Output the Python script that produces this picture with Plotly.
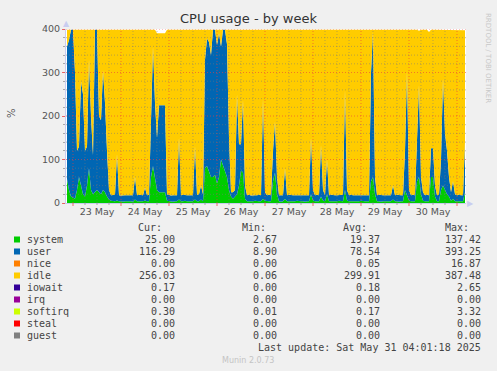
import pandas as pd
import plotly.graph_objects as go

# ---------------- data (hourly, from 22 May 21:00 to 31 May 04:00) ----------------
start_time = "2025-05-22 21:00"
n_points = 200

system = [
    55, 30, 15, 12, 10, 30, 60, 40, 20, 15,
    40, 80, 30, 20, 25, 30, 25, 20, 30, 25,
    15, 8, 5, 4, 4, 6, 4, 4, 3, 4,
    4, 5, 4, 3, 8, 4, 4, 5, 4, 6,
    4, 4, 60, 85, 60, 30, 25, 25, 25, 25,
    5, 4, 4, 3, 4, 4, 8, 4, 4, 5,
    4, 4, 3, 4, 8, 4, 4, 8, 4, 80,
    85, 70, 60, 60, 65, 45, 60, 100, 85, 75,
    60, 30, 15, 10, 15, 20, 40, 75, 70, 10,
    4, 4, 3, 4, 5, 4, 4, 4, 10, 5,
    4, 4, 4, 50, 70, 20, 4, 3, 4, 10,
    4, 4, 4, 3, 4, 5, 4, 4, 4, 3,
    4, 4, 20, 6, 4, 4, 4, 15, 6, 4,
    20, 4, 4, 3, 4, 4, 5, 4, 4, 30,
    6, 4, 4, 4, 3, 4, 4, 5, 4, 4,
    4, 4, 50, 60, 20, 4, 4, 3, 4, 4,
    4, 4, 4, 8, 4, 4, 3, 4, 4, 30,
    20, 6, 4, 4, 4, 50, 60, 20, 5, 4,
    4, 4, 60, 60, 15, 4, 4, 30, 40, 30,
    20, 15, 5, 10, 4, 4, 4, 3, 4, 25,
]

user = [
    305, 345, 383, 386, 290, 90, 70, 240, 230, 105,
    90, 250, 170, 90, 373, 368, 175, 170, 275, 205,
    105, 22, 13, 14, 15, 106, 14, 13, 15, 14,
    14, 13, 14, 15, 52, 14, 15, 13, 14, 29,
    14, 15, 140, 275, 170, 120, 200, 200, 200, 200,
    15, 14, 13, 15, 14, 14, 142, 14, 15, 13,
    14, 14, 15, 14, 122, 15, 16, 32, 16, 250,
    293, 300, 280, 338, 333, 318, 330, 260, 313, 323,
    305, 120, 10, 15, 15, 230, 95, 60, 167, 30,
    14, 15, 14, 14, 13, 14, 15, 14, 230, 20,
    14, 15, 14, 70, 117, 40, 14, 15, 14, 70,
    14, 15, 14, 15, 14, 13, 14, 15, 14, 15,
    14, 14, 130, 24, 14, 15, 14, 118, 24, 14,
    80, 14, 15, 15, 14, 14, 13, 14, 15, 230,
    24, 14, 15, 14, 15, 14, 14, 13, 14, 15,
    14, 14, 250, 334, 40, 14, 15, 15, 14, 14,
    14, 15, 14, 32, 14, 15, 15, 14, 14, 90,
    282, 24, 14, 15, 14, 80, 211, 40, 20, 14,
    15, 14, 66, 66, 25, 14, 15, 70, 246, 130,
    100, 45, 20, 40, 16, 14, 15, 15, 14, 116,
]

idle = [
    38, 23, 0, 0, 98, 278, 268, 118, 148, 278,
    268, 68, 198, 288, 0, 0, 198, 208, 93, 168,
    278, 368, 380, 380, 379, 286, 380, 381, 380, 380,
    380, 380, 380, 380, 338, 380, 379, 380, 380, 363,
    380, 379, 198, 38, 168, 240, 165, 165, 165, 165,
    378, 380, 381, 380, 380, 380, 248, 380, 379, 380,
    380, 380, 380, 380, 268, 379, 378, 358, 378, 68,
    20, 28, 58, 0, 0, 35, 8, 38, 0, 0,
    33, 248, 373, 373, 368, 148, 263, 263, 161, 358,
    380, 379, 381, 380, 380, 380, 379, 380, 158, 373,
    380, 379, 380, 278, 211, 338, 380, 380, 380, 318,
    380, 379, 380, 380, 380, 380, 380, 379, 380, 380,
    380, 380, 248, 368, 380, 379, 380, 265, 368, 380,
    298, 380, 379, 380, 380, 380, 380, 380, 379, 138,
    368, 380, 379, 380, 380, 380, 380, 380, 380, 379,
    380, 380, 98, 4, 338, 380, 379, 380, 380, 380,
    380, 379, 380, 358, 380, 379, 380, 380, 380, 278,
    96, 368, 380, 379, 380, 268, 125, 338, 373, 380,
    379, 375, 272, 272, 358, 380, 379, 298, 112, 238,
    278, 338, 373, 348, 378, 380, 379, 380, 380, 256,
]

# legend / statistics table
series_names = ["system", "user", "nice", "idle", "iowait", "irq", "softirq", "steal", "guest"]
series_colors = ["#00CC00", "#0066B3", "#FF8000", "#FFCC00", "#330099", "#990099", "#CCFF00", "#FF0000", "#808080"]
stat_cur = ["25.00", "116.29", "0.00", "256.03", "0.17", "0.00", "0.30", "0.00", "0.00"]
stat_min = ["2.67", "8.90", "0.00", "0.06", "0.00", "0.00", "0.01", "0.00", "0.00"]
stat_avg = ["19.37", "78.54", "0.05", "299.91", "0.18", "0.00", "0.17", "0.00", "0.00"]
stat_max = ["137.42", "393.25", "16.87", "387.48", "2.65", "0.00", "3.32", "0.00", "0.00"]

day_labels = ["23 May", "24 May", "25 May", "26 May", "27 May", "28 May", "29 May", "30 May"]
y_ticks = [0, 100, 200, 300, 400]

# ---------------- figure ----------------
W, H = 497, 371
L, R, T, B = 66, 466, 29, 203  # plot area in pixels


def xp(px):
    return (px - L) / (R - L)


def yp(py):
    return (B - py) / (B - T)


times = pd.date_range(start_time, periods=n_points, freq="h")
x_start = pd.Timestamp("2025-05-22 20:30")
x_end = pd.Timestamp("2025-05-31 04:30")

fig = go.Figure()
for name, vals, col in [("system", system, "#00CC00"), ("user", user, "#0066B3"), ("idle", idle, "#FFCC00")]:
    fig.add_trace(go.Scatter(
        x=times, y=vals, name=name, mode="lines", stackgroup="cpu",
        line=dict(width=0, color=col), fillcolor=col, hoverinfo="skip",
    ))

shapes = []
minor_col = "rgba(120,120,120,0.5)"
major_col = "rgba(235,60,60,0.6)"
dash = "1px,2px"

# vertical grid every 6 hours, major (red) at midnight
grid_times = pd.date_range("2025-05-23 00:00", "2025-05-31 00:00", freq="6h")
for t in grid_times:
    major = t.hour == 0
    shapes.append(dict(type="line", xref="x", yref="paper", x0=t, x1=t, y0=0, y1=1,
                       line=dict(color=major_col if major else minor_col, width=1, dash=dash), layer="above"))
    shapes.append(dict(type="line", xref="x", yref="paper", x0=t, x1=t, y0=0, y1=yp(B + (3 if major else 2)),
                       line=dict(color="rgba(235,90,90,0.9)" if major else "rgba(150,150,150,0.8)", width=1),
                       layer="above"))
# horizontal grid every 20, major every 100
for v in range(20, 401, 20):
    major = v % 100 == 0
    shapes.append(dict(type="line", xref="paper", yref="y", x0=0, x1=1, y0=v, y1=v,
                       line=dict(color=major_col if major else minor_col, width=1, dash=dash), layer="above"))

# legend squares
row_y = [239.5 + 12 * i for i in range(len(series_names))]
for col, ry in zip(series_colors, row_y):
    shapes.append(dict(type="rect", xref="paper", yref="paper",
                       x0=xp(14), x1=xp(20), y0=yp(ry + 3), y1=yp(ry - 3),
                       fillcolor=col, line=dict(width=0), layer="above"))

annotations = []
mono = "DejaVu Sans Mono"
txt_col = "#444444"


def ann(text, x, y, xanchor="left", size=10, color=txt_col, family=mono, **kw):
    annotations.append(dict(text=text, x=xp(x), y=yp(y), xref="paper", yref="paper",
                            xanchor=xanchor, yanchor="middle", showarrow=False,
                            font=dict(family=family, size=size, color=color), **kw))


ann("Cur:", 164, 227, "right")
ann("Min:", 268, 227, "right")
ann("Avg:", 369, 227, "right")
ann("Max:", 471, 227, "right")
for i, name in enumerate(series_names):
    ry = row_y[i]
    ann(name, 25, ry)
    ann(stat_cur[i], 177, ry, "right")
    ann(stat_min[i], 279, ry, "right")
    ann(stat_avg[i], 382, ry, "right")
    ann(stat_max[i], 483, ry, "right")
ann("Last update: Sat May 31 04:01:18 2025", 483, 347.5, "right")
ann("Munin 2.0.73", 248, 360, "center", size=8, color="#c4c4c4", family="DejaVu Sans")

# title, axis label, side text, arrows
ann("CPU usage - by week", 248, 19, "center", size=13, color="#333333", family="DejaVu Sans")
ann("%", 11, 113, "center", size=10, color="#555555", family="DejaVu Sans", textangle=-90)
ann("RRDTOOL / TOBI OETIKER", 488, 58, "center", size=7, color="#c8c8c8", family="DejaVu Sans", textangle=90)
ann("▲", 66, 24, "center", size=8, color="#c9cdf0", family="DejaVu Sans")
ann("▶", 470, 203, "center", size=8, color="#c9cdf0", family="DejaVu Sans")

fig.update_layout(
    width=W, height=H,
    margin=dict(l=L, r=W - R, t=T, b=H - B, pad=0),
    paper_bgcolor="#F0F0F0", plot_bgcolor="#FFFFFF",
    showlegend=False,
    shapes=shapes, annotations=annotations,
    xaxis=dict(
        type="date", range=[x_start, x_end], showgrid=False, zeroline=False,
        tickvals=[pd.Timestamp(f"2025-05-{23 + i} 12:00") for i in range(len(day_labels))],
        ticktext=day_labels, ticks="", ticklen=0,
        tickfont=dict(family="DejaVu Sans", size=9.5, color="#555555"),
        showline=True, linecolor="#c9cdf0", linewidth=1, fixedrange=True,
    ),
    yaxis=dict(
        range=[0, 400], showgrid=False, zeroline=False,
        tickvals=y_ticks, ticktext=[str(v) for v in y_ticks],
        ticks="outside", ticklen=3, tickcolor="rgba(235,90,90,0.9)",
        minor=dict(dtick=20, ticks="outside", ticklen=2, tickcolor="rgba(150,150,150,0.8)", showgrid=False),
        tickfont=dict(family="DejaVu Sans", size=9.5, color="#555555"),
        showline=True, linecolor="#c9cdf0", linewidth=1, fixedrange=True,
    ),
)

fig.write_html(
    "out.html",
    config={"displayModeBar": False, "staticPlot": True},
    post_script="document.body.style.margin='0';document.body.style.padding='0';"
                "document.body.style.overflow='hidden';document.body.style.background='#F0F0F0';",
)
